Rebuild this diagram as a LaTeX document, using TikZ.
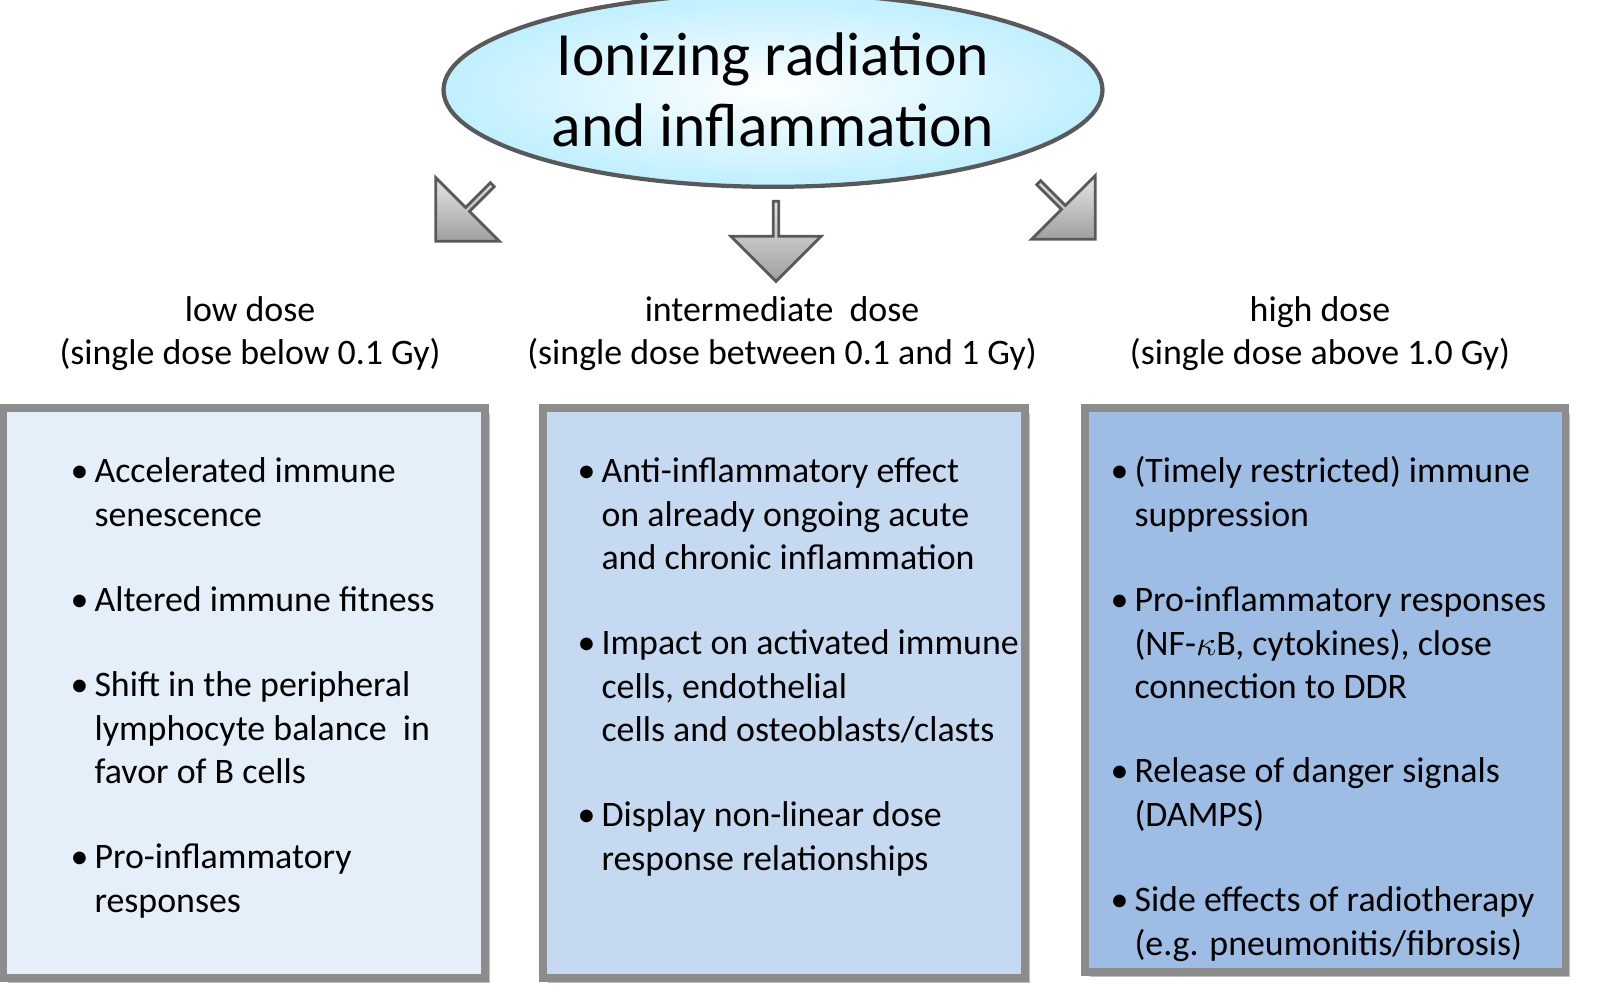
\documentclass[tikz,border=0pt]{standalone}
\usepackage{fontspec}
\setmainfont{Carlito}
\usetikzlibrary{shapes.arrows,shapes.geometric}

\definecolor{lowbox}{HTML}{E4EFFA}
\definecolor{midbox}{HTML}{C5DAF0}
\definecolor{highbox}{HTML}{9EBDE4}
\definecolor{frame}{HTML}{8C8C8C}

\newcommand{\bul}[1]{\begin{tabular}[t]{@{}l@{\,}l@{}}\textbullet&\begin{tabular}[t]{@{}l@{}}#1\end{tabular}\end{tabular}}

\tikzset{
	dosebox/.style={draw=frame, line width=2pt},
	item/.style={anchor=base west, inner sep=0pt, font=\fontsize{10.2pt}{12.3pt}\selectfont},
	head/.style={align=center, inner sep=0pt, font=\fontsize{10.2pt}{12.3pt}\selectfont},
	blockarr/.style={single arrow, draw=gray!70!black, line width=0.8pt, top color=gray!20, bottom color=gray!75,
		minimum height=0.8cm, minimum width=0.9cm, single arrow head extend=0.22cm, inner sep=0pt, single arrow tip angle=90}
}

\begin{document}
\begin{tikzpicture}[x=0.01cm, y=-0.01cm]
	\useasboundingbox (0,0) rectangle (1600,1001);
	% title
	\node (T) [ellipse, draw=gray!70!black, line width=1.2pt, inner color=white, outer color=blue!25!cyan!25,
		minimum width=5.3cm, minimum height=1.2cm, align=center, font=\fontsize{17.5pt}{20pt}\selectfont] at (773,90)
		{Ionizing radiation\\and inflammation};
	% arrows
	\node (AL) [blockarr, rotate=225] at (465,212) {};
	\node (AM) [blockarr, rotate=270] at (776,240) {};
	\node (AH) [blockarr, rotate=315] at (1066,210) {};
	% headers
	\node (HL) [head] at (250,334) {low dose\\(single dose below 0.1 Gy)};
	\node (HM) [head] at (782,334) {intermediate~ dose\\(single dose between 0.1 and 1 Gy)};
	\node (HH) [head] at (1320,334) {high dose\\(single dose above 1.0 Gy)};
	% boxes
	\fill[gray!50] (8,414) rectangle (490,983);
	\fill[gray!50] (548,414) rectangle (1030,983);
	\fill[gray!50] (1090,414) rectangle (1570,977);
	\draw[dosebox, fill=lowbox] (3,408) rectangle (485,978);
	\draw[dosebox, fill=midbox] (543,408) rectangle (1025,978);
	\draw[dosebox, fill=highbox] (1085,408) rectangle (1565,972);
	% low dose
	\node (L1) [item] at (70,483) {\bul{Accelerated immune\\ senescence}};
	\node (L2) [item] at (70,612) {\bul{Altered immune fitness}};
	\node (L3) [item] at (70,697) {\bul{Shift in the peripheral\\ lymphocyte balance~ in\\ favor of B cells}};
	\node (L4) [item] at (70,869) {\bul{Pro-inflammatory\\responses}};
	% intermediate dose
	\node (M1) [item] at (577,483) {\bul{Anti-inflammatory effect\\on already ongoing acute\\and chronic inflammation}};
	\node (M2) [item] at (577,655) {\bul{Impact on activated immune\\cells, endothelial\\cells and osteoblasts/clasts}};
	\node (M3) [item] at (577,827) {\bul{Display non-linear dose\\response relationships}};
	% high dose
	\node (H1) [item] at (1110,483) {\bul{(Timely restricted) immune\\suppression}};
	\node (H2) [item] at (1110,612) {\bul{Pro-inflammatory responses\\(NF-$\kappa$B, cytokines), close\\connection to DDR}};
	\node (H3) [item] at (1110,783) {\bul{Release of danger signals\\(DAMPS)}};
	\node (H4) [item] at (1110,912) {\bul{Side effects of radiotherapy\\(e.g. pneumonitis/fibrosis)}};
\end{tikzpicture}
\end{document}
